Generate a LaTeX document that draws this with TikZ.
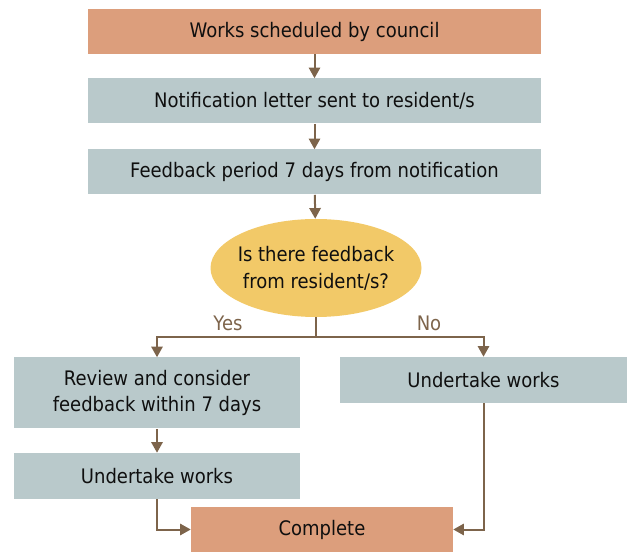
\documentclass[tikz,border=0pt]{standalone}
\usepackage{fontspec}
\setmainfont{DejaVu Sans}[FakeStretch=0.9]
\usetikzlibrary{arrows.meta,shapes.geometric}
\definecolor{orangebox}{RGB}{220,158,124}
\definecolor{graybox}{RGB}{185,201,203}
\definecolor{yellowell}{RGB}{242,201,104}
\definecolor{arrowc}{RGB}{125,100,75}
\definecolor{textc}{RGB}{15,15,15}
\begin{document}
\begin{tikzpicture}[x=0.75pt,y=-0.75pt,
  every node/.style={font=\fontsize{15}{20}\selectfont, text=textc, inner sep=0pt},
  obox/.style={rectangle, fill=orangebox, minimum height=45*0.75pt},
  gbox/.style={rectangle, fill=graybox, minimum height=45*0.75pt},
  ell/.style={ellipse, fill=yellowell, inner xsep=-20pt, inner ysep=-6pt, minimum width=211*0.75pt, minimum height=98*0.75pt, align=center},
  arr/.style={draw=arrowc, line width=1.5pt, -{Triangle[width=8.5pt,length=8pt]}},
  lbl/.style={text=arrowc}]
\useasboundingbox (0,0) rectangle (629,552);
\node[obox, minimum width=453*0.75pt] (b1) at (314.5,31.5) {Works scheduled by council};
\node[gbox, minimum width=453*0.75pt] (b2) at (314.5,101) {Notification letter sent to resident/s};
\node[gbox, minimum width=453*0.75pt] (b3) at (314.5,172) {Feedback period 7 days from notification};
\node[ell] (q) at (316,268) {Is there feedback\\from resident/s?};
\node[gbox, minimum width=286*0.75pt, minimum height=71*0.75pt, align=center] (rev) at (157,393) {Review and consider\\feedback within 7 days};
\node[gbox, minimum width=287*0.75pt, minimum height=46*0.75pt] (undR) at (483.5,380) {Undertake works};
\node[gbox, minimum width=286*0.75pt, minimum height=46*0.75pt] (undL) at (157,476) {Undertake works};
\node[obox, minimum width=262*0.75pt] (comp) at (322,529.5) {Complete};
\node[lbl] (yes) at (228,323) {Yes};
\node[lbl] (no) at (429,323) {No};
\coordinate (j) at (316,337);
\draw[arr] (b1) -- (b2);
\draw[arr] (b2) -- (b3);
\draw[arr] (b3) -- (q);
\draw[arr] (q.south) -- (j) -| (rev.north);
\draw[arr] (j) -| (undR.north);
\draw[arr] (rev) -- (undL);
\draw[arr] (undL.south) |- (comp.west);
\draw[arr] (undR.south) |- (comp.east);
\end{tikzpicture}
\end{document}
